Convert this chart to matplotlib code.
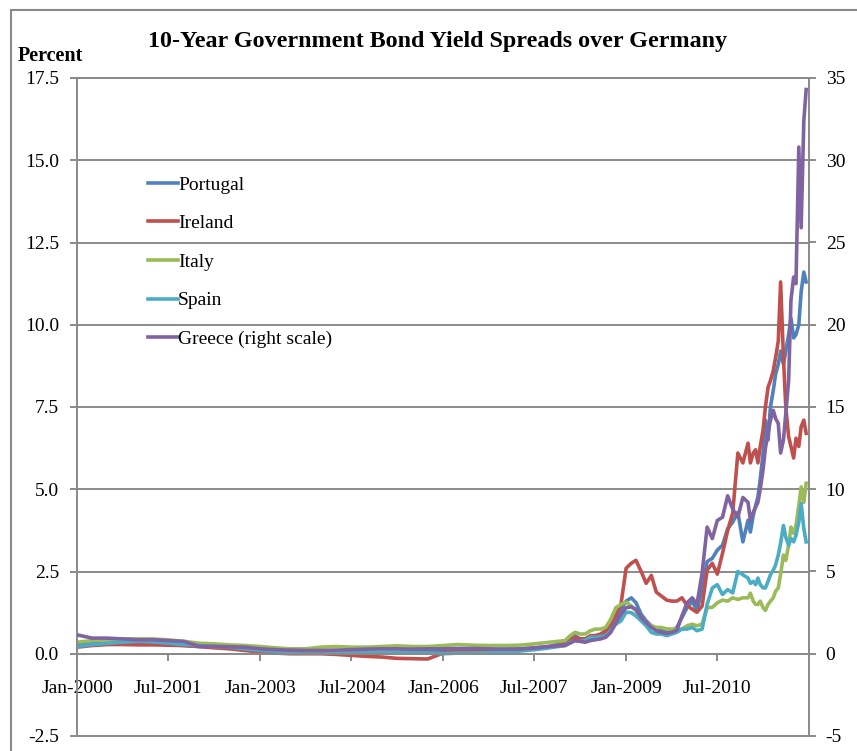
import numpy as np
import pandas as pd
import matplotlib
matplotlib.use('Agg')
import matplotlib.pyplot as plt
from matplotlib.patches import Rectangle
from matplotlib.ticker import FuncFormatter

plt.rcParams['font.family'] = ['Liberation Serif', 'DejaVu Serif']
plt.rcParams['axes.unicode_minus'] = False

# sample dates: quarterly to 2007, monthly 2008-2010, twice a month in 2011
dates = (list(pd.date_range('2000-01-01', '2007-10-01', freq='QS'))
         + list(pd.date_range('2008-01-01', '2010-12-01', freq='MS'))
         + list(pd.date_range('2011-01-01', '2011-12-15', freq='SMS')))

portugal = [0.30, 0.30, 0.32, 0.30, 0.30, 0.30, 0.28, 0.25, 0.22, 0.20, 0.18, 0.15,
            0.12, 0.10, 0.08, 0.07, 0.05, 0.05, 0.05, 0.04, 0.05, 0.05, 0.06, 0.08,
            0.10, 0.10, 0.12, 0.12, 0.14, 0.15, 0.18, 0.22,
            0.35, 0.45, 0.55, 0.45, 0.45, 0.50, 0.55, 0.55, 0.60, 0.75, 1.00, 1.35,
            1.60, 1.70, 1.55, 1.20, 1.00, 0.85, 0.75, 0.70, 0.65, 0.70, 0.80, 1.10,
            1.40, 1.60, 1.30, 2.00, 2.80, 2.90, 3.15, 3.30, 3.80, 4.00, 4.30, 3.40,
            4.06, 3.70, 4.20, 4.50, 4.76, 5.30, 6.10, 7.10, 6.50, 7.50, 8.00, 8.50,
            8.80, 9.20, 8.80, 9.20, 9.70, 10.20, 9.60, 9.70, 10.00, 11.00, 11.60, 11.30]

ireland = [0.20, 0.25, 0.28, 0.28, 0.27, 0.27, 0.26, 0.25, 0.22, 0.18, 0.15, 0.10,
           0.05, 0.02, 0.00, 0.00, 0.00, -0.02, -0.05, -0.08, -0.10, -0.14, -0.15, -0.16,
           0.02, 0.06, 0.08, 0.10, 0.10, 0.10, 0.15, 0.20,
           0.30, 0.40, 0.50, 0.45, 0.45, 0.55, 0.55, 0.60, 0.70, 0.90, 1.20, 1.50,
           2.60, 2.75, 2.84, 2.50, 2.14, 2.38, 1.87, 1.75, 1.63, 1.60, 1.60, 1.70,
           1.47, 1.35, 1.26, 1.45, 2.54, 2.75, 2.42, 3.05, 3.75, 4.27, 6.10, 5.80,
           6.40, 5.80, 6.10, 6.20, 5.80, 6.30, 6.80, 7.50, 8.10, 8.30, 8.60, 9.00,
           9.50, 11.30, 9.00, 7.50, 6.60, 6.30, 5.95, 6.55, 6.30, 6.90, 7.10, 6.70]

italy = [0.35, 0.40, 0.42, 0.45, 0.45, 0.45, 0.42, 0.38, 0.32, 0.30, 0.27, 0.25,
         0.22, 0.18, 0.15, 0.15, 0.20, 0.22, 0.20, 0.20, 0.22, 0.24, 0.22, 0.22,
         0.25, 0.28, 0.26, 0.25, 0.25, 0.26, 0.30, 0.35,
         0.40, 0.55, 0.65, 0.60, 0.60, 0.70, 0.75, 0.75, 0.80, 1.05, 1.40, 1.50,
         1.57, 1.45, 1.30, 1.10, 0.95, 0.85, 0.80, 0.80, 0.75, 0.75, 0.75, 0.75,
         0.85, 0.90, 0.85, 0.90, 1.40, 1.41, 1.55, 1.63, 1.60, 1.70, 1.65, 1.70,
         1.70, 1.84, 1.60, 1.50, 1.50, 1.60, 1.40, 1.32, 1.50, 1.60, 1.70, 1.90,
         2.00, 2.42, 3.00, 2.84, 3.30, 3.85, 3.66, 3.90, 4.50, 5.07, 4.60, 5.18]

spain = [0.22, 0.28, 0.32, 0.35, 0.38, 0.36, 0.32, 0.28, 0.25, 0.22, 0.20, 0.15,
         0.10, 0.08, 0.05, 0.05, 0.05, 0.05, 0.04, 0.04, 0.03, 0.03, 0.02, 0.02,
         0.00, 0.02, 0.02, 0.03, 0.05, 0.08, 0.12, 0.18,
         0.25, 0.35, 0.40, 0.38, 0.40, 0.50, 0.50, 0.52, 0.55, 0.70, 0.90, 1.00,
         1.26, 1.25, 1.15, 1.00, 0.85, 0.65, 0.60, 0.60, 0.55, 0.60, 0.65, 0.75,
         0.75, 0.80, 0.70, 0.75, 1.50, 2.00, 2.10, 1.80, 1.95, 1.85, 2.50, 2.40,
         2.30, 2.14, 2.20, 2.10, 2.30, 2.10, 2.00, 2.00, 2.20, 2.40, 2.54, 2.70,
         3.00, 3.36, 3.90, 3.54, 3.30, 3.50, 3.40, 3.60, 4.00, 4.57, 3.80, 3.40]

greece = [1.15, 0.95, 0.95, 0.90, 0.85, 0.85, 0.80, 0.75, 0.45, 0.45, 0.42, 0.40,
          0.30, 0.25, 0.22, 0.20, 0.20, 0.22, 0.25, 0.28, 0.30, 0.30, 0.28, 0.30,
          0.30, 0.32, 0.32, 0.30, 0.28, 0.28, 0.35, 0.45,
          0.50, 0.65, 0.80, 0.75, 0.70, 0.80, 0.85, 0.90, 1.00, 1.30, 1.90, 2.40,
          2.80, 2.85, 2.70, 2.20, 1.90, 1.60, 1.40, 1.30, 1.25, 1.30, 1.43, 2.30,
          3.10, 3.40, 3.00, 4.90, 7.70, 7.00, 8.10, 8.30, 9.60, 8.80, 8.30, 9.50,
          9.20, 8.10, 8.60, 8.90, 9.20, 10.00, 11.20, 12.50, 13.40, 14.20, 14.80, 14.30,
          14.00, 12.20, 13.00, 14.60, 16.60, 21.50, 22.90, 22.50, 30.80, 25.90, 32.40, 34.30]

left_series = [('Portugal', portugal, '#4F81BD'),
               ('Ireland', ireland, '#C0504D'),
               ('Italy', italy, '#9BBB59'),
               ('Spain', spain, '#4BACC6')]

xtick_dates = pd.date_range('2000-01-01', '2010-07-01', freq='18MS')
grey = '#8a8a8a'
fs = 14

fig = plt.figure(figsize=(8.57, 7.51), dpi=100)
ax = fig.add_axes([77 / 857, 1 - 736 / 751, 732 / 857, 658 / 751])
ax2 = ax.twinx()

handles = []
for name, vals, col in left_series:
    h, = ax.plot(dates, vals, color=col, lw=2.6, label=name)
    handles.append(h)
h, = ax2.plot(dates, greece, color='#8064A2', lw=2.6, label='Greece (right scale)')
handles.append(h)

ax.set_xlim(pd.Timestamp('2000-01-01'), pd.Timestamp('2012-01-01'))
ax.set_ylim(-2.5, 17.5)
ax.set_yticks(np.arange(-2.5, 17.6, 2.5))
ax.yaxis.set_major_formatter(FuncFormatter(lambda v, _: f'{v:.1f}'))
ax2.set_ylim(-5, 35)
ax2.set_yticks(np.arange(-5, 36, 5))

ax.set_xticks(xtick_dates)
ax.set_xticklabels([d.strftime('%b-%Y') for d in xtick_dates])

ax.grid(axis='y', color=grey, lw=1.4)
ax.set_axisbelow(True)
for gl in ax.get_ygridlines():
    gl.set_clip_on(False)

ax.spines['bottom'].set_position(('data', 0))
for sp in ['top', 'right']:
    ax.spines[sp].set_visible(False)
for sp in ['bottom', 'left']:
    ax.spines[sp].set_color(grey)
    ax.spines[sp].set_linewidth(1.4)
for sp in ['bottom', 'left']:
    ax2.spines[sp].set_visible(False)
for sp in ['top', 'right']:
    ax2.spines[sp].set_color(grey)
    ax2.spines[sp].set_linewidth(1.4)

ax.tick_params(axis='x', direction='out', length=5, width=1.4, color=grey, pad=14, labelsize=fs)
ax.tick_params(axis='y', direction='out', length=5, width=1.4, color=grey, pad=8, labelsize=fs)
ax2.tick_params(axis='y', direction='out', length=5, width=1.4, color=grey, pad=7, labelsize=fs)

ax2.legend(handles=handles, loc='upper left', bbox_to_anchor=(0.097, 0.851),
           frameon=False, fontsize=fs, handlelength=1.55, handletextpad=0.0,
           labelspacing=1.08, borderpad=0, borderaxespad=0)

fig.text(437.5 / 857, 1 - 42 / 751, '10-Year Government Bond Yield Spreads over Germany',
         ha='center', va='center', fontsize=17.3, fontweight='bold')
fig.text(18 / 857, 1 - 56 / 751, 'Percent', ha='left', va='center',
         fontsize=14.5, fontweight='bold')

fig.patches.append(Rectangle((11 / 857, -0.1), 2, 1 - 10 / 751 + 0.1,
                             transform=fig.transFigure, fill=False,
                             ec=grey, lw=1.5))

fig.savefig('out.png', dpi=100)
